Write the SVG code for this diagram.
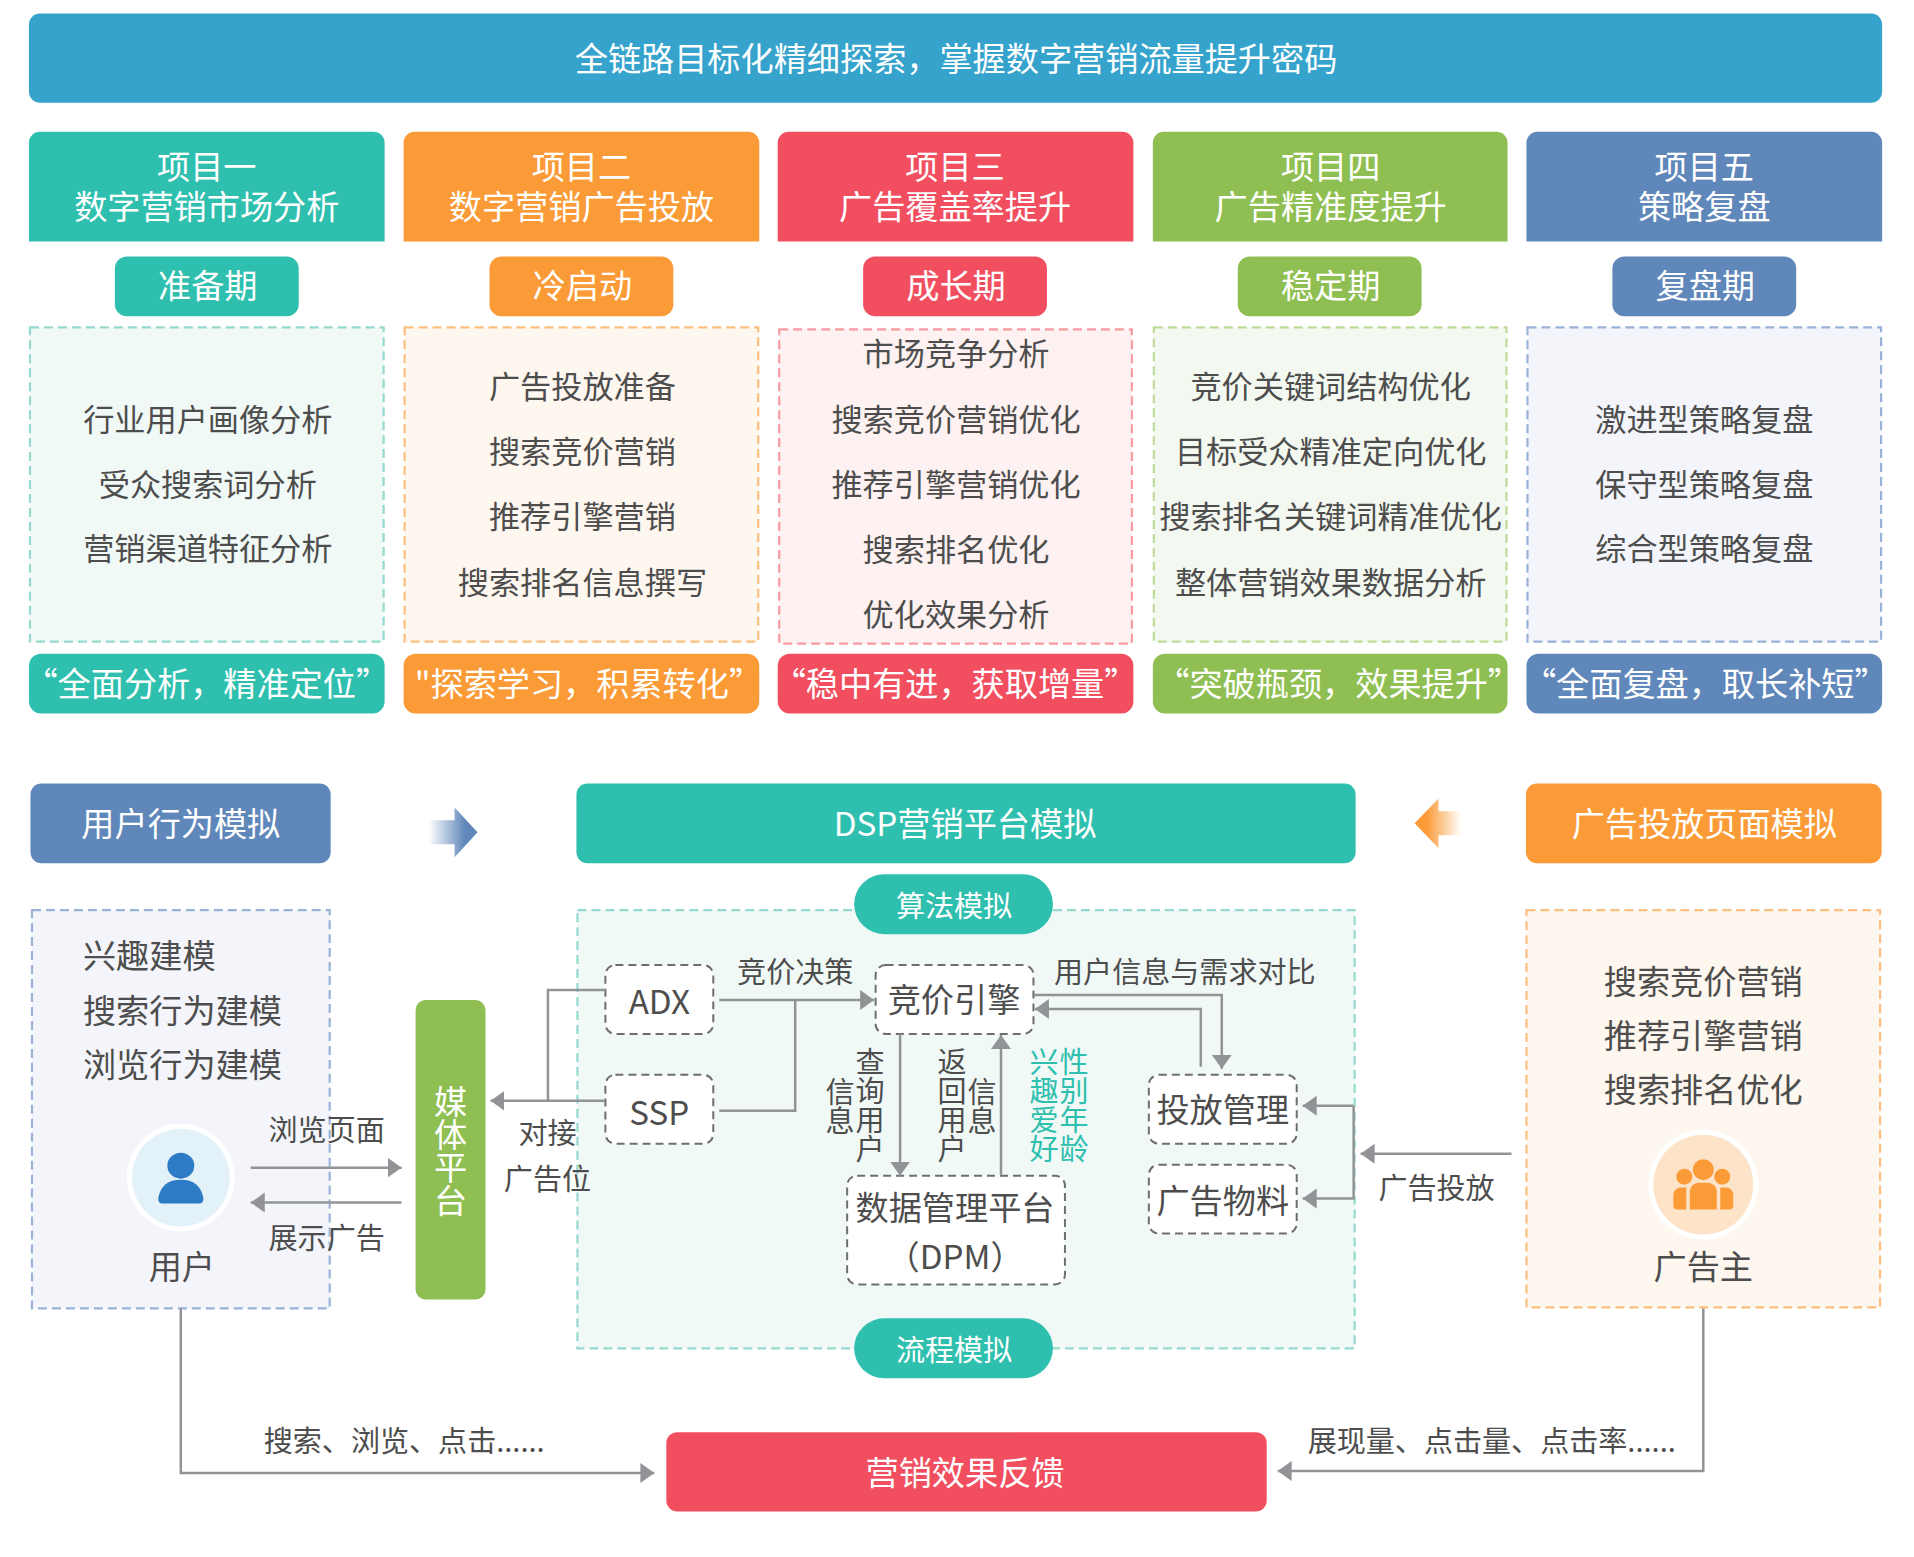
<svg xmlns="http://www.w3.org/2000/svg" width="1914" height="1557" viewBox="0 0 1914 1557">
<style>
text{font-family:"Noto Sans CJK SC","Noto Sans",sans-serif;dominant-baseline:central;text-anchor:middle}
.w{fill:#fff}.g{fill:#4d4d4d}
.s33{font-size:33.200px}.s31{font-size:31.200px}.s29{font-size:29.100px}
.teal{fill:#2fbfae}.orange{fill:#fb9b38}.red{fill:#f14f60}.green{fill:#8fbf52}.blue{fill:#5f87ba}
.lteal{fill:#f1f9f7;stroke:#96d9cf}.lorange{fill:#fef7ef;stroke:#fcbf80}.lred{fill:#fdf2f1;stroke:#f79aa2}.lgreen{fill:#f3f8f0;stroke:#bedb9a}.lblue{fill:#f3f5fa;stroke:#9ab2d8}
.dash{stroke-width:2.200;stroke-dasharray:9 5}
.bx{fill:#fff;stroke:#6e6e6e;stroke-width:2;stroke-dasharray:8 5}
.ln{fill:none;stroke:#919396;stroke-width:2.500}
.vt{writing-mode:vertical-rl;text-anchor:middle;dominant-baseline:central}
</style>
<defs>
<marker id="ah" markerUnits="userSpaceOnUse" markerWidth="15" markerHeight="22" refX="14" refY="10" orient="auto"><path d="M0,0L14,10L0,20Z" fill="#919396"/></marker>
<linearGradient id="gb" x1="0" x2="1" y1="0" y2="0"><stop offset="0" stop-color="#5f87ba" stop-opacity="0"/><stop offset="0.75" stop-color="#5f87ba"/></linearGradient>
<linearGradient id="go" x1="0" x2="1" y1="0" y2="0"><stop offset="0.25" stop-color="#fb9b38"/><stop offset="1" stop-color="#fb9b38" stop-opacity="0"/></linearGradient>
</defs>
<rect width="1914" height="1557" fill="#fff"/>
<g transform="scale(0.999,0.998)">
<g id="banner"><rect x="29" y="13.500" width="1855" height="89.500" rx="11" fill="#36a3cc"/><text class="w s33" x="957" y="57">全链路目标化精细探索，掌握数字营销流量提升密码</text></g>

<g id="col1">
<path class="teal" d="M29,242V143a11,11 0 0 1 11,-11H374a11,11 0 0 1 11,11V242Z"/>
<text class="w s33" x="207" y="165">项目一</text><text class="w s33" x="207" y="205">数字营销市场分析</text>
<rect class="teal" x="115" y="257" width="184" height="60" rx="12"/><text class="w s33" x="208" y="285">准备期</text>
<rect class="lteal dash" x="30" y="328" width="354" height="315"/>
<text class="g s31" x="208" y="418.500">行业用户画像分析</text><text class="g s31" x="208" y="483">受众搜索词分析</text><text class="g s31" x="208" y="548">营销渠道特征分析</text>
<rect class="teal" x="29" y="655" width="356" height="60" rx="12"/><text class="w s33" x="207" y="683">“全面分析，精准定位”</text>
</g>
<g id="col2">
<path class="orange" d="M404,242V143a11,11 0 0 1 11,-11H749a11,11 0 0 1 11,11V242Z"/>
<text class="w s33" x="582" y="165">项目二</text><text class="w s33" x="582" y="205">数字营销广告投放</text>
<rect class="orange" x="490" y="257" width="184" height="60" rx="12"/><text class="w s33" x="583" y="285">冷启动</text>
<rect class="lorange dash" x="405" y="328" width="354" height="315"/>
<text class="g s31" x="583" y="385.500">广告投放准备</text><text class="g s31" x="583" y="450.500">搜索竞价营销</text><text class="g s31" x="583" y="516">推荐引擎营销</text><text class="g s31" x="583" y="582">搜索排名信息撰写</text>
<rect class="orange" x="404" y="655" width="356" height="60" rx="12"/><text class="w s33" x="589" y="683">"探索学习，积累转化”</text>
</g>
<g id="col3">
<path class="red" d="M778.500,242V143a11,11 0 0 1 11,-11H1123.500a11,11 0 0 1 11,11V242Z"/>
<text class="w s33" x="956" y="165">项目三</text><text class="w s33" x="956" y="205">广告覆盖率提升</text>
<rect class="red" x="864" y="257" width="184" height="60" rx="12"/><text class="w s33" x="957" y="285">成长期</text>
<rect class="lred dash" x="780" y="330" width="353" height="315"/>
<text class="g s31" x="957" y="352.500">市场竞争分析</text><text class="g s31" x="957" y="418.500">搜索竞价营销优化</text><text class="g s31" x="957" y="483">推荐引擎营销优化</text><text class="g s31" x="957" y="549">搜索排名优化</text><text class="g s31" x="957" y="614">优化效果分析</text>
<rect class="red" x="778.500" y="655" width="356" height="60" rx="12"/><text class="w s33" x="956" y="683">“稳中有进，获取增量”</text>
</g>
<g id="col4">
<path class="green" d="M1154,242V143a11,11 0 0 1 11,-11H1498a11,11 0 0 1 11,11V242Z"/>
<text class="w s33" x="1332" y="165">项目四</text><text class="w s33" x="1332" y="205">广告精准度提升</text>
<rect class="green" x="1239" y="257" width="184" height="60" rx="12"/><text class="w s33" x="1332" y="285">稳定期</text>
<rect class="lgreen dash" x="1155" y="328" width="353" height="315"/>
<text class="g s31" x="1332" y="385.500">竞价关键词结构优化</text><text class="g s31" x="1332" y="450.500">目标受众精准定向优化</text><text class="g s31" x="1332" y="516">搜索排名关键词精准优化</text><text class="g s31" x="1332" y="582">整体营销效果数据分析</text>
<rect class="green" x="1154" y="655" width="355" height="60" rx="12"/><text class="w s33" x="1340" y="683">“突破瓶颈，效果提升”</text>
</g>
<g id="col5">
<path class="blue" d="M1528,242V143a11,11 0 0 1 11,-11H1873a11,11 0 0 1 11,11V242Z"/>
<text class="w s33" x="1706" y="165">项目五</text><text class="w s33" x="1706" y="205">策略复盘</text>
<rect class="blue" x="1614" y="257" width="184" height="60" rx="12"/><text class="w s33" x="1707" y="285">复盘期</text>
<rect class="lblue dash" x="1529" y="328" width="354" height="315"/>
<text class="g s31" x="1706" y="418.500">激进型策略复盘</text><text class="g s31" x="1706" y="483">保守型策略复盘</text><text class="g s31" x="1706" y="548">综合型策略复盘</text>
<rect class="blue" x="1528" y="655" width="356" height="60" rx="12"/><text class="w s33" x="1707" y="683">“全面复盘，取长补短”</text>
</g>

<g id="user-head"><rect class="blue" x="30.500" y="785" width="300.500" height="80" rx="11"/><text class="w s33" x="181" y="824">用户行为模拟</text></g>
<g id="dsp-head"><rect class="teal" x="577" y="785" width="780" height="80" rx="11"/><text class="w s33" x="966" y="824">DSP营销平台模拟</text></g>
<g id="ad-head"><rect class="orange" x="1527.500" y="785" width="356" height="80" rx="11"/><text class="w s33" x="1706" y="824">广告投放页面模拟</text></g>
<path id="arrow-right" fill="url(#gb)" d="M429,822H455V809L478,834L455,859V846H429Z"/>
<path id="arrow-left" fill="url(#go)" d="M1463,813H1440V800L1416,825L1440,850V837H1463Z"/>

<g id="user-panel">
<rect class="lblue dash" x="32" y="912" width="298" height="399"/>
<text class="g s33" x="83" y="956" style="text-anchor:start">兴趣建模</text><text class="g s33" x="83" y="1011" style="text-anchor:start">搜索行为建模</text><text class="g s33" x="83" y="1065" style="text-anchor:start">浏览行为建模</text>
<circle cx="181" cy="1180" r="54" fill="#fff"/><circle cx="181" cy="1180" r="49" fill="#e3f1f9"/>
<ellipse cx="181" cy="1168" rx="13.500" ry="13" fill="#2d7bc4"/>
<path fill="#2d7bc4" d="M162,1206Q158,1206 158.500,1200Q162,1182 181,1182Q200,1182 203.500,1200Q204,1206 200,1206Z"/>
<text class="g s33" x="182" y="1268">用户</text>
</g>
<g id="media"><rect class="green" x="416" y="1002" width="70" height="300" rx="10"/>
<text class="w s33 vt" x="451" y="1153">媒体平台</text></g>

<g id="dsp-panel"><rect class="lteal dash" x="578" y="912" width="778" height="439"/></g>
<g id="algo"><rect class="teal" x="855" y="876" width="199" height="60" rx="30"/><text class="w s29" x="955" y="906">算法模拟</text></g>
<g id="flow"><rect class="teal" x="855" y="1321" width="199" height="60" rx="30"/><text class="w s29" x="955" y="1351">流程模拟</text></g>
<g id="adx"><rect class="bx" x="606" y="967" width="108" height="69" rx="10"/><text class="g s33" x="660" y="1002">ADX</text></g>
<g id="ssp"><rect class="bx" x="606" y="1077" width="108" height="69" rx="10"/><text class="g s33" x="660" y="1113">SSP</text></g>
<g id="engine"><rect class="bx" x="876.500" y="967" width="158" height="69" rx="10"/><text class="g s33" x="955" y="1000.500">竞价引擎</text></g>
<g id="dpm"><rect class="bx" x="848" y="1178" width="218" height="109" rx="10"/><text class="g s33" x="956" y="1208">数据管理平台</text><text class="g s33" x="956" y="1258">（DPM）</text></g>
<g id="manage"><rect class="bx" x="1150" y="1077" width="148" height="69" rx="10"/><text class="g s33" x="1224" y="1110">投放管理</text></g>
<g id="material"><rect class="bx" x="1150" y="1167" width="148" height="69" rx="10"/><text class="g s33" x="1224" y="1201">广告物料</text></g>

<g id="ad-panel">
<rect class="lorange dash" x="1528" y="912" width="354" height="398"/>
<text class="g s33" x="1705" y="982">搜索竞价营销</text><text class="g s33" x="1705" y="1036">推荐引擎营销</text><text class="g s33" x="1705" y="1090">搜索排名优化</text>
<circle cx="1705" cy="1187" r="55" fill="#fff"/><circle cx="1705" cy="1187" r="50" fill="#fde3c8"/>
<g fill="#fb9b38"><circle cx="1705" cy="1172" r="10.500"/><circle cx="1686" cy="1179" r="8"/><circle cx="1724" cy="1179" r="8"/>
<path d="M1691.500,1212V1194a9,9 0 0 1 9,-9h9a9,9 0 0 1 9,9V1212Z"/><path d="M1688,1212h-9a4,4 0 0 1 -4,-4V1197a7,7 0 0 1 7,-7h6Z"/><path d="M1722,1212h9a4,4 0 0 0 4,-4V1197a7,7 0 0 0 -7,-7h-6Z"/></g>
<text class="g s33" x="1705" y="1268">广告主</text>
</g>
<g id="feedback"><rect class="red" x="667" y="1435" width="601" height="79.500" rx="11"/><text class="w s33" x="966" y="1473.500">营销效果反馈</text></g>

<g id="connectors">
<path class="ln" marker-end="url(#ah)" d="M251,1170H402"/>
<path class="ln" marker-end="url(#ah)" d="M402,1205H251"/>
<path class="ln" marker-end="url(#ah)" d="M605,1103H491"/>
<path class="ln" d="M605,992H548.500V1103"/>
<path class="ln" marker-end="url(#ah)" d="M720,1002H875"/>
<path class="ln" d="M720,1113H796V1002"/>
<path class="ln" marker-end="url(#ah)" d="M1035,997H1223V1071"/>
<path class="ln" marker-end="url(#ah)" d="M1202,1069V1011H1036"/>
<path class="ln" marker-end="url(#ah)" d="M901,1036V1178"/>
<path class="ln" marker-end="url(#ah)" d="M1002,1177V1037"/>
<path class="ln" marker-end="url(#ah)" d="M1355,1108H1304"/>
<path class="ln" marker-end="url(#ah)" d="M1355,1108V1201H1304"/>
<path class="ln" marker-end="url(#ah)" d="M1513,1156H1362"/>
<path class="ln" marker-end="url(#ah)" d="M181,1311V1476H655"/>
<path class="ln" marker-end="url(#ah)" d="M1705,1311V1474H1279"/>
</g>

<g id="labels">
<text class="g s29" x="327" y="1130">浏览页面</text>
<text class="g s29" x="327" y="1238">展示广告</text>
<text class="g s29" x="548" y="1133">对接</text>
<text class="g s29" x="548" y="1179">广告位</text>
<text class="g s29" x="796" y="972">竞价决策</text>
<text class="g s29" x="1186" y="972">用户信息与需求对比</text>
<text class="g s29 vt" x="871" y="1108">查询用户</text>
<text class="g s29 vt" x="841" y="1109">信息</text>
<text class="g s29 vt" x="953" y="1108">返回用户</text>
<text class="g s29 vt" x="983" y="1109">信息</text>
<text class="s29 vt" style="fill:#2fbfae" x="1045" y="1108">兴趣爱好</text>
<text class="s29 vt" style="fill:#2fbfae" x="1075" y="1108">性别年龄</text>
<text class="g s29" x="1438" y="1188">广告投放</text>
<text class="g s29" x="264" y="1442" style="text-anchor:start">搜索、浏览、点击......</text>
<text class="g s29" x="1309" y="1442" style="text-anchor:start">展现量、点击量、点击率......</text>
</g>
</g>
</svg>
